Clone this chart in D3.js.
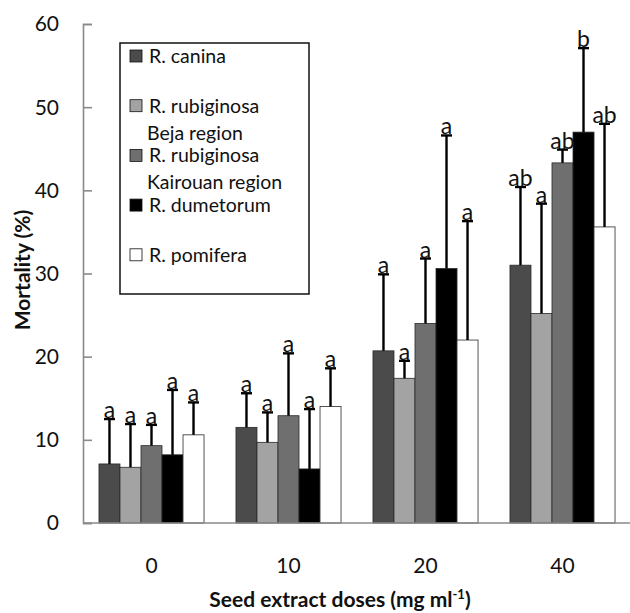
<!DOCTYPE html>
<html>
<head>
<meta charset="utf-8">
<script src="https://cdn.jsdelivr.net/npm/d3@7"></script>
<style>
  html, body { margin: 0; padding: 0; background: #fff; }
  svg { display: block; font-family: Lato, 'Open Sans', sans-serif; }
</style>
</head>
<body>
<div id="chart"></div>
<script>
// doses on x axis
const doses = ['0', '10', '20', '40']
// species / series
const series = ['canina', 'rubBeja', 'rubKairouan', 'dumetorum', 'pomifera']
const seriesLabels = [
  ['R. canina'],
  ['R. rubiginosa', 'Beja region'],
  ['R. rubiginosa', 'Kairouan region'],
  ['R. dumetorum'],
  ['R. pomifera']
]
const seriesColors = ['#4b4b4b', '#a3a3a3', '#6f6f6f', '#000000', '#ffffff']

// mean mortality per dose, one array per species
const canina = [7.1, 11.5, 20.7, 31.0]
const rubBeja = [6.7, 9.7, 17.4, 25.2]
const rubKairouan = [9.3, 12.9, 24.0, 43.3]
const dumetorum = [8.2, 6.5, 30.6, 47.0]
const pomifera = [10.6, 14.0, 22.0, 35.6]

// upper end of the error bars
const caninaErr = [12.5, 15.6, 29.9, 40.4]
const rubBejaErr = [11.9, 13.3, 19.5, 38.4]
const rubKairouanErr = [11.8, 20.4, 31.8, 44.9]
const dumetorumErr = [16.0, 13.7, 46.6, 57.1]
const pomiferaErr = [14.5, 18.6, 36.3, 48.0]

// significance letters
const caninaSig = ['a', 'a', 'a', 'ab']
const rubBejaSig = ['a', 'a', 'a', 'a']
const rubKairouanSig = ['a', 'a', 'a', 'ab']
const dumetorumSig = ['a', 'a', 'a', 'b']
const pomiferaSig = ['a', 'a', 'a', 'ab']

const yTicks = [0, 10, 20, 30, 40, 50, 60]

const values = { canina, rubBeja, rubKairouan, dumetorum, pomifera }
const errs = { canina: caninaErr, rubBeja: rubBejaErr, rubKairouan: rubKairouanErr, dumetorum: dumetorumErr, pomifera: pomiferaErr }
const sigs = { canina: caninaSig, rubBeja: rubBejaSig, rubKairouan: rubKairouanSig, dumetorum: dumetorumSig, pomifera: pomiferaSig }

let w = 630, h = 613
let margin = { left: 83, right: -1, top: 24, bottom: 90 }

let svg = d3.select('#chart').append('svg')
  .attr('width', w)
  .attr('height', h)

let x0 = d3.scaleBand().domain(doses).range([margin.left, w - margin.right]).padding(0)
let x1 = d3.scaleBand().domain(series).range([0, x0.bandwidth()]).paddingInner(0).paddingOuter(0.76)
let y = d3.scaleLinear().domain([0, 60]).range([h - margin.bottom, margin.top])
let color = d3.scaleOrdinal().domain(series).range(seriesColors)

// rows of bar data
let rows = []
doses.forEach((d, i) => {
  series.forEach(s => {
    rows.push({ dose: d, s: s, v: values[s][i], e: errs[s][i], sig: sigs[s][i] })
  })
})

// y axis, ticks point inward
let yAxis = svg.append('g')
  .attr('transform', `translate(${margin.left},0)`)
  .call(d3.axisRight(y).tickValues(yTicks).tickSize(9).tickFormat(''))
yAxis.select('.domain').attr('stroke', '#8a8a8a').attr('stroke-width', 1.6)
yAxis.selectAll('.tick line').attr('stroke', '#8a8a8a').attr('stroke-width', 1.6)

svg.append('g').selectAll('text').data(yTicks).enter().append('text')
  .attr('x', 59)
  .attr('y', d => y(d))
  .attr('dy', '0.35em')
  .attr('text-anchor', 'end')
  .attr('font-size', '21px')
  .attr('fill', '#111')
  .text(d => d)

// bars
let groups = svg.append('g').selectAll('g').data(rows).enter().append('g')
  .attr('transform', d => `translate(${x0(d.dose) + x1(d.s)},0)`)

groups.append('rect')
  .attr('x', 0)
  .attr('y', d => y(d.v))
  .attr('width', x1.bandwidth())
  .attr('height', d => y(0) - y(d.v))
  .attr('fill', d => color(d.s))
  .attr('stroke', '#2a2a2a')
  .attr('stroke-width', 0.8)

// error bars
let bw = x1.bandwidth()
groups.append('line')
  .attr('x1', bw / 2).attr('x2', bw / 2)
  .attr('y1', d => y(d.v)).attr('y2', d => y(d.e))
  .attr('stroke', '#000').attr('stroke-width', 2.4)
groups.append('line')
  .attr('x1', bw / 2 - 5.5).attr('x2', bw / 2 + 5.5)
  .attr('y1', d => y(d.e)).attr('y2', d => y(d.e))
  .attr('stroke', '#000').attr('stroke-width', 2.4)

groups.append('text')
  .attr('x', bw / 2)
  .attr('y', d => y(d.e) - 1)
  .attr('text-anchor', 'middle')
  .attr('font-size', '23px')
  .attr('fill', '#111')
  .text(d => d.sig)

// x axis line (no ticks)
svg.append('line')
  .attr('x1', margin.left).attr('x2', w)
  .attr('y1', y(0)).attr('y2', y(0))
  .attr('stroke', '#8a8a8a').attr('stroke-width', 1.6)

svg.append('g').selectAll('text').data(doses).enter().append('text')
  .attr('x', d => x0(d) + x0.bandwidth() / 2)
  .attr('y', 573)
  .attr('text-anchor', 'middle')
  .attr('font-size', '21px')
  .attr('fill', '#111')
  .text(d => d)

// axis titles
let xt = svg.append('text')
  .attr('x', 340)
  .attr('y', 607)
  .attr('text-anchor', 'middle')
  .attr('font-size', '21px')
  .attr('font-weight', 'bold')
  .attr('fill', '#111')
xt.append('tspan').text('Seed extract doses (mg ml')
xt.append('tspan').attr('font-size', '13px').attr('dy', '-8').text('-1')
xt.append('tspan').attr('dy', '8').text(')')

svg.append('text')
  .attr('transform', 'translate(30,270) rotate(-90)')
  .attr('text-anchor', 'middle')
  .attr('font-size', '21px')
  .attr('font-weight', 'bold')
  .attr('fill', '#111')
  .text('Mortality (%)')

// legend
let legendOp = { x: 120, y: 43, width: 189, height: 251, rowH: 49.7, first: 13, lineH: 27 }
let legend = svg.append('g').attr('transform', `translate(${legendOp.x},${legendOp.y})`)
legend.append('rect')
  .attr('width', legendOp.width).attr('height', legendOp.height)
  .attr('fill', '#fff').attr('stroke', '#111').attr('stroke-width', 1.5)

let item = legend.selectAll('.legend').data(series).enter().append('g')
  .attr('transform', (d, i) => `translate(0,${legendOp.first + i * legendOp.rowH})`)
item.append('rect')
  .attr('x', 10).attr('y', -6).attr('width', 12).attr('height', 12)
  .attr('fill', d => color(d))
  .attr('stroke', '#111').attr('stroke-width', 0.8)
item.each(function (d, i) {
  let t = d3.select(this).append('text')
    .attr('x', 29)
    .attr('y', 0)
    .attr('font-size', '19.5px')
    .attr('fill', '#111')
  seriesLabels[i].forEach((l, k) => {
    t.append('tspan').attr('x', k === 0 ? 29 : 27).attr('dy', k === 0 ? '0.35em' : legendOp.lineH).text(l)
  })
})
</script>
</body>
</html>
